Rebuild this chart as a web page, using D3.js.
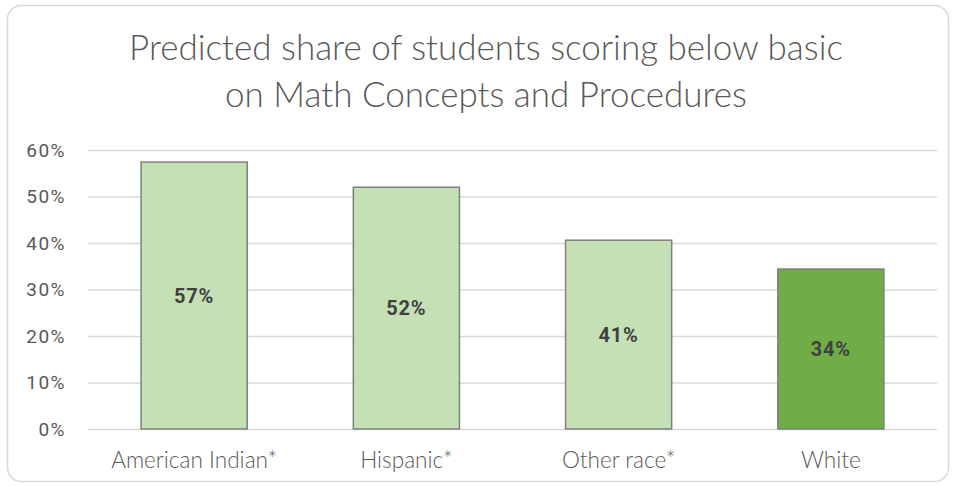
<!DOCTYPE html>
<html><head><meta charset="utf-8">
<script src="https://cdn.jsdelivr.net/npm/d3@7"></script>
<style>body{margin:0;background:#fff}svg{display:block}</style>
</head><body>
<script>
const categories = ["American Indian*", "Hispanic*", "Other race*", "White"];
const values = [0.574, 0.520, 0.406, 0.344];
const labels = ["57%", "52%", "41%", "34%"];
const highlight = [false, false, false, true];
const yTicks = [0, 0.1, 0.2, 0.3, 0.4, 0.5, 0.6];
const titleLines = ["Predicted share of students scoring below basic", "on Math Concepts and Procedures"];

(function () {
const W = 957, H = 486;
const svg = d3.select("body").append("svg").attr("width", W).attr("height", H);
svg.append("rect").attr("x", 7.5).attr("y", 5.5).attr("width", 941).attr("height", 476)
  .attr("rx", 14).attr("fill", "#fff").attr("stroke", "#d9d9d9").attr("stroke-width", 1.5);

const light = "Lato, 'Open Sans', sans-serif";
const pLeft = 88, pRight = 937, pTop = 150, pBottom = 429;
const x = d3.scaleBand().domain(categories).range([pLeft, pRight]).paddingInner(0.5).paddingOuter(0.25);
const y = d3.scaleLinear().domain([0, 0.6]).range([pBottom, pTop]);

const title = svg.append("g").selectAll("text").data(titleLines).join("text")
  .attr("x", 486).attr("y", (d, i) => 60 + i * 47).attr("text-anchor", "middle")
  .attr("font-family", light).attr("font-weight", 300).attr("font-size", 32).attr("fill", "#595959").text(d => d);
const w1 = title.nodes()[0].getComputedTextLength();
if (w1 > 0) title.attr("font-size", 32 * 714 / w1);

const gy = svg.append("g").attr("transform", `translate(${pLeft},0)`)
  .call(d3.axisLeft(y).tickValues(yTicks).tickFormat(d3.format(".0%")).tickSize(-(pRight - pLeft)).tickPadding(22));
gy.select(".domain").remove();
gy.selectAll(".tick line").attr("stroke", "#d9d9d9").attr("stroke-width", 1.5);
gy.selectAll(".tick text").attr("font-family", "Roboto, sans-serif").attr("font-size", 19)
  .attr("letter-spacing", "1.5px").attr("fill", "#595959");

svg.append("g").selectAll("rect").data(categories).join("rect")
  .attr("x", d => x(d)).attr("width", x.bandwidth())
  .attr("y", (d, i) => y(values[i])).attr("height", (d, i) => y(0) - y(values[i]))
  .attr("fill", (d, i) => highlight[i] ? "#70ad47" : "#c5e0b4")
  .attr("stroke", "#7f7f7f").attr("stroke-width", 1.5);

svg.append("g").selectAll("text").data(categories).join("text")
  .attr("x", d => x(d) + x.bandwidth() / 2)
  .attr("y", (d, i) => (y(values[i]) + y(0)) / 2).attr("dy", "0.35em")
  .attr("text-anchor", "middle").attr("font-family", "Roboto, sans-serif").attr("font-weight", "bold")
  .attr("font-size", 20).attr("letter-spacing", "0.8px").attr("fill", "#404040").text((d, i) => labels[i]);

const gx = svg.append("g").attr("transform", `translate(0,${pBottom})`)
  .call(d3.axisBottom(x).tickSize(0).tickPadding(23));
gx.select(".domain").remove();
const ct = gx.selectAll(".tick text").attr("font-family", light).attr("font-weight", 300)
  .attr("font-size", 19).attr("fill", "#595959");
const cw = ct.nodes()[0].getComputedTextLength();
if (cw > 0) ct.attr("font-size", 19 * 166 / cw);
})();
</script>
</body></html>
